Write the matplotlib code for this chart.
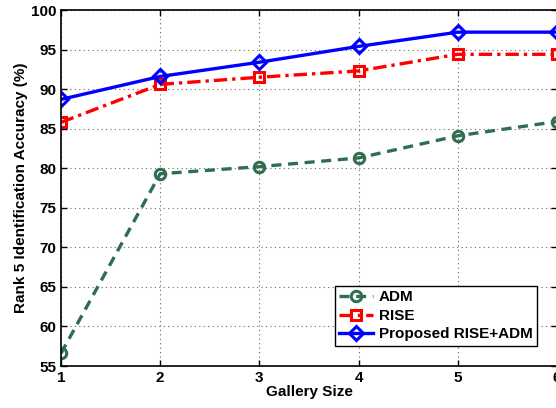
import matplotlib
matplotlib.use("Agg")
import matplotlib.pyplot as plt

gallery = [1, 2, 3, 4, 5, 6]
adm = [56.6, 79.3, 80.2, 81.3, 84.1, 85.9]
rise = [85.8, 90.6, 91.5, 92.3, 94.4, 94.4]
proposed = [88.7, 91.6, 93.4, 95.4, 97.2, 97.2]
yticks = [55, 60, 65, 70, 75, 80, 85, 90, 95, 100]

plt.rcParams['font.family'] = ['Liberation Sans', 'DejaVu Sans']
plt.rcParams['font.weight'] = 'bold'

fig = plt.figure(figsize=(5.56, 4.08), dpi=100)
ax = fig.add_axes([61/556, 42/408, 496/556, 356/408])

ax.plot(gallery, adm, '--', color='#2f6e4f', lw=2.4, marker='o', ms=7.5,
        mfc='none', mew=2.2, label='ADM', dashes=(3, 2))
ax.plot(gallery, rise, '-.', color='#ff0000', lw=2.4, marker='s', ms=7.5,
        mfc='none', mew=2.2, label='RISE', dashes=(4, 1.5, 1, 1.5))
ax.plot(gallery, proposed, '-', color='#0000ff', lw=2.4, marker='D', ms=7.5,
        mfc='none', mew=2.2, label='Proposed RISE+ADM')

ax.set_xlim(1, 6)
ax.set_ylim(55, 100)
ax.set_xticks(gallery)
ax.set_yticks(yticks)
ax.grid(True, linestyle=(0, (1, 3)), color='#666666', lw=0.8)
ax.tick_params(direction='in', labelsize=11, top=True, right=True, length=4, width=1)
for lab in ax.get_xticklabels() + ax.get_yticklabels():
    lab.set_fontweight('bold')
for s in ax.spines.values():
    s.set_linewidth(1.2)
ax.set_xlabel('Gallery Size', fontsize=11, fontweight='bold', labelpad=0)
ax.set_ylabel('Rank 5 Identification Accuracy (%)', fontsize=11, fontweight='bold', labelpad=2)

leg = ax.legend(loc='lower right', bbox_to_anchor=(0.96, 0.056), borderaxespad=0,
                fancybox=False, edgecolor='black', framealpha=1,
                prop={'weight': 'bold', 'size': 11}, handlelength=2.2,
                handletextpad=0.4, borderpad=0.3, labelspacing=0.3)
leg.get_frame().set_linewidth(1.0)

fig.savefig('out.png', dpi=100)
